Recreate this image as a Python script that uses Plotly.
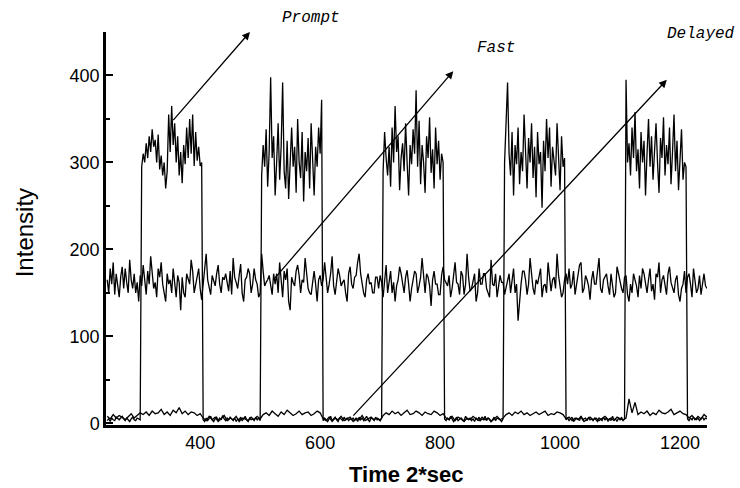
import numpy as np
import plotly.graph_objects as go

# sampling grids (time axis, units of 2 s)
fine_start, fine_step, fine_n = 245, 2.5, 401
coarse_start, coarse_step, coarse_n = 245, 5, 201
time_fine = [fine_start + fine_step * i for i in range(fine_n)]
time_coarse = [coarse_start + coarse_step * i for i in range(coarse_n)]

prompt = [
    # off (x 245-300)
    3, 5, 2, 6, 4, 3, 7, 5, 4, 6, 8, 5, 3, 6, 4, 2, 5, 7, 4, 3, 6, 5, 4,
    # pulse 1 (x 302.5-402.5)
    295, 310, 300, 322, 305, 330, 312, 338, 318, 326, 300, 332, 292, 308, 285, 300, 270, 290, 355, 312,
    365, 320, 345, 300, 330, 285, 312, 276, 320, 298, 340, 305, 350, 310, 355, 296, 335, 302, 318, 296, 300,
    # off (x 405-500)
    4, 2, 6, 3, 5, 8, 4, 2, 5, 7, 3, 6, 4, 9, 5, 3, 6, 4, 7, 5,
    3, 6, 2, 5, 4, 7, 3, 5, 8, 4, 2, 6, 4, 5, 3, 7, 4, 6, 3,
    # pulse 2 (x 502.5-602.5)
    285, 320, 295, 338, 272, 312, 398, 305, 330, 262, 300, 345, 280, 318, 392, 290, 270, 325, 258, 310,
    340, 295, 318, 265, 350, 300, 282, 335, 255, 312, 290, 328, 270, 345, 300, 262, 318, 295, 340, 310, 372,
    # off (x 605-702.5)
    3, 6, 4, 2, 5, 8, 3, 5, 7, 4, 2, 6, 5, 3, 7, 4, 6, 3, 5, 4,
    6, 3, 5, 2, 7, 4, 6, 3, 5, 8, 4, 2, 6, 5, 3, 7, 4, 5, 3, 6,
    # pulse 3 (x 705-805)
    290, 335, 305, 285, 318, 272, 340, 300, 365, 312, 330, 268, 305, 322, 290, 345, 300, 262, 320, 298,
    338, 310, 383, 295, 348, 275, 320, 300, 265, 330, 305, 352, 288, 315, 270, 340, 298, 325, 280, 310, 300,
    # off (x 807.5-905)
    5, 3, 6, 4, 8, 5, 2, 4, 7, 3, 5, 6, 4, 3, 8, 5, 4, 6, 3, 5,
    2, 6, 4, 7, 3, 5, 4, 8, 3, 6, 5, 2, 4, 7, 3, 6, 5, 4, 2, 5,
    # pulse 4 (x 907.5-1007.5)
    300, 345, 392, 310, 285, 335, 262, 320, 298, 340, 275, 312, 290, 355, 305, 270, 328, 300, 345, 282,
    318, 260, 335, 298, 312, 248, 325, 290, 350, 305, 340, 272, 318, 300, 285, 345, 310, 268, 330, 295, 305,
    # off (x 1010-1107.5)
    4, 6, 3, 5, 7, 2, 4, 6, 5, 3, 8, 4, 5, 6, 3, 7, 4, 5, 3, 6,
    4, 2, 6, 5, 3, 7, 4, 6, 2, 5, 3, 8, 4, 5, 2, 6, 4, 7, 3, 5,
    # pulse 5 (x 1110-1210)
    395, 300, 322, 285, 340, 305, 358, 290, 315, 270, 335, 300, 325, 262, 310, 350, 295, 330, 280, 318,
    345, 300, 265, 328, 305, 352, 285, 320, 298, 340, 275, 312, 355, 290, 325, 268, 305, 338, 280, 300, 295,
    # off (x 1212.5-1245)
    5, 3, 6, 4, 7, 5, 4, 6, 3, 5, 7, 4, 6, 5,
]

fast = [
    165, 150, 178, 160, 185, 148, 172, 158, 145, 168, 180, 155, 178, 162, 150, 188, 165, 155, 172, 150,
    162, 140, 170, 158, 182, 165, 148, 175, 160, 192, 170, 155, 162, 145, 178, 168, 185, 160, 150, 140,
    172, 160, 165, 150, 178, 158, 145, 170, 162, 130, 168, 150, 145, 172, 165, 160, 188, 175, 150, 160,
    168, 178, 155, 142, 160, 175, 195, 165, 155, 148, 170, 162, 158, 172, 182, 160, 150, 168, 165, 172,
    160, 152, 175, 148, 190, 168, 162, 155, 170, 183, 150, 140, 165, 168, 178, 172, 150, 160, 178, 165,
    160, 145, 150, 195, 175, 158, 162, 165, 170, 160, 148, 172, 160, 172, 150, 185, 162, 145, 175, 165,
    178, 140, 130, 168, 162, 158, 175, 182, 170, 150, 165, 162, 190, 175, 155, 150, 148, 162, 175, 160,
    140, 165, 170, 158, 165, 185, 170, 150, 160, 172, 192, 158, 148, 165, 178, 170, 158, 162, 165, 150,
    140, 172, 180, 160, 155, 168, 170, 185, 195, 172, 160, 150, 145, 165, 172, 160, 162, 150, 150, 168,
    168, 155, 170, 162, 145, 168, 182, 150, 160, 175, 150, 162, 140, 158, 165, 180, 172, 158, 150, 168,
    176, 160, 140, 155, 165, 175, 172, 150, 158, 168, 190, 165, 150, 172, 168, 158, 135, 165, 175, 160,
    160, 148, 148, 170, 180, 165, 162, 158, 170, 145, 155, 170, 185, 162, 160, 148, 175, 170, 148, 160,
    195, 168, 152, 155, 165, 172, 140, 150, 178, 160, 160, 172, 172, 155, 150, 145, 188, 160, 158, 172,
    145, 155, 170, 162, 162, 148, 155, 165, 172, 150, 165, 178, 150, 160, 118, 145, 160, 175, 175, 165,
    148, 160, 190, 172, 155, 148, 165, 160, 170, 178, 145, 158, 160, 150, 185, 170, 152, 165, 168, 155,
    195, 170, 158, 145, 150, 165, 172, 160, 178, 155, 160, 175, 148, 160, 170, 182, 185, 150, 155, 170,
    165, 158, 142, 165, 175, 160, 160, 172, 190, 155, 150, 165, 168, 172, 158, 148, 172, 160, 145, 150,
    180, 172, 162, 155, 150, 168, 170, 148, 140, 160, 150, 172, 165, 158, 145, 170, 155, 178, 172, 160,
    150, 165, 178, 152, 160, 142, 172, 168, 185, 150, 165, 170, 158, 148, 172, 180, 162, 155, 150, 165,
    170, 148, 140, 155, 160, 175, 150, 168, 172, 160, 145, 178, 165, 150, 155, 170, 148, 162, 172, 158,
    155,
]

delayed = [
    8, 5, 10, 6, 9, 7, 4, 8, 11, 6, 9, 12,
    10, 13, 9, 14, 11, 12, 16, 10, 13, 9, 15, 12, 18, 11, 14, 10, 13, 12, 9, 11,
    6, 3, 8, 4, 7, 2, 5, 9, 3, 6, 4, 8, 2, 6, 5, 3, 7, 4, 8, 5,
    10, 12, 9, 14, 11, 8, 13, 10, 15, 12, 9, 11, 14, 10, 12, 13, 9, 11, 14, 12,
    5, 3, 7, 2, 6, 4, 8, 3, 5, 7, 2, 6, 4, 9, 3, 5, 7, 4, 6, 3,
    9, 12, 10, 14, 11, 13, 9, 12, 15, 10, 11, 14, 12, 9, 13, 11, 10, 14, 12, 9, 11,
    6, 4, 8, 3, 7, 5, 2, 6, 4, 8, 5, 3, 7, 4, 6, 2, 5, 8, 4, 6,
    10, 12, 9, 13, 11, 14, 10, 12, 9, 11, 13, 10, 12, 14, 9, 11, 10, 13, 12, 10,
    5, 7, 3, 6, 4, 8, 2, 5, 7, 4, 6, 3, 5, 8, 4, 6, 3, 7, 5, 4, 6,
    28, 12, 24, 10, 13, 11, 14, 9, 12, 10, 15, 12, 11, 13, 16, 10, 12, 14, 11, 10,
    6, 9, 4, 8, 5, 10, 7,
]

x_ticks = [400, 600, 800, 1000, 1200]
y_ticks = [0, 100, 200, 300, 400]

# label annotations: (text, arrow tip x, tip y, tail x, tail y, label x, label y in paper units)
labels = [
    ("Prompt", 483, 450, 353, 347, 585, 1.035),
    ("Fast", 822, 405, 522, 165, 893, 0.96),
    ("Delayed", 1178, 395, 653, 7, 1235, 0.995),
]

fig = go.Figure()
for name, xs, ys in [("Delayed", time_coarse, delayed), ("Fast", time_fine, fast), ("Prompt", time_fine, prompt)]:
    fig.add_trace(go.Scatter(x=xs, y=ys, mode="lines", name=name,
                             line=dict(color="black", width=1.3), showlegend=False))

for text, tx, ty, ax, ay, lx, ly in labels:
    fig.add_annotation(x=tx, y=ty, ax=ax, ay=ay, xref="x", yref="y", axref="x", ayref="y",
                       text="", showarrow=True, arrowhead=2, arrowsize=1.2, arrowwidth=1.3,
                       arrowcolor="black")
    fig.add_annotation(x=lx, y=ly, xref="x", yref="paper", yanchor="middle", text=text, showarrow=False,
                       font=dict(family="Liberation Mono", size=16, color="black", style="italic"))

# axis titles
fig.add_annotation(x=0.5, y=-0.125, xref="paper", yref="paper", xanchor="center", yanchor="middle",
                   text="<b>Time 2*sec</b>", showarrow=False,
                   font=dict(family="Liberation Sans", size=22, color="black"))
fig.add_annotation(x=-0.135, y=0.49, xref="paper", yref="paper", xanchor="center", yanchor="middle",
                   text="Intensity", textangle=-90, showarrow=False,
                   font=dict(family="Liberation Sans", size=24, color="black"))

axis_font = dict(family="Liberation Sans", size=18, color="black")
fig.update_layout(
    width=740, height=488,
    margin=dict(l=106, r=33, t=32, b=63, autoexpand=False),
    paper_bgcolor="white", plot_bgcolor="white",
    xaxis=dict(range=[243, 1245], tickvals=x_ticks, showgrid=False, zeroline=False,
               showline=True, linecolor="black", linewidth=2.5, ticks="",
               tickfont=axis_font, automargin=False),
    yaxis=dict(range=[-2, 450], tickvals=y_ticks, showgrid=False, zeroline=False,
               showline=True, linecolor="black", linewidth=2.5, ticks="inside", ticklen=7,
               tickcolor="black", tickwidth=1.5,
               minor=dict(tickvals=[50, 150, 250, 350, 450], ticks="inside", ticklen=4, tickcolor="black"),
               tickfont=axis_font, automargin=False),
)

fig.write_html("out.html")
